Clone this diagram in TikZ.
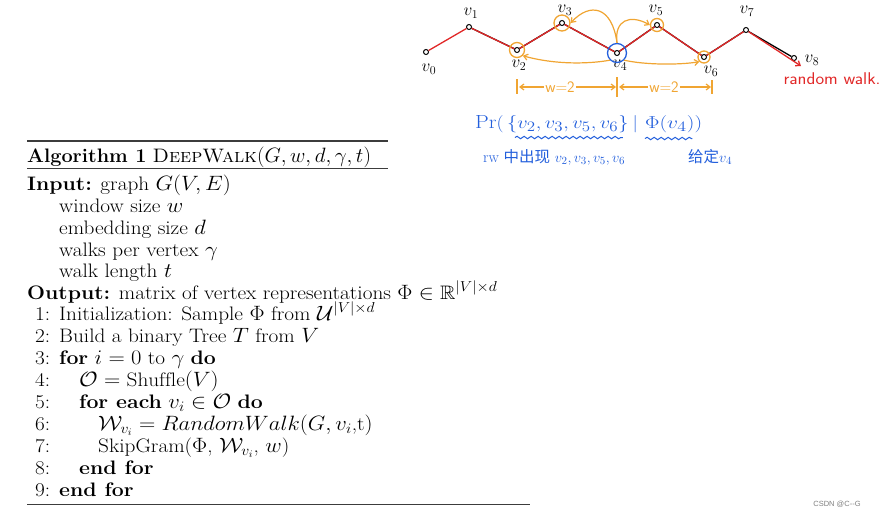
\documentclass[tikz,border=0pt]{standalone}
\usepackage{amsmath,amssymb}
\usepackage{fontspec}
\newfontfamily\cjk{Noto Sans CJK SC}
\newfontfamily\csdnfont{Liberation Sans}
\usetikzlibrary{arrows.meta,decorations.pathmorphing}
\definecolor{handorange}{RGB}{240,165,50}
\definecolor{handblue}{RGB}{35,95,220}
\definecolor{handred}{RGB}{225,40,40}
\definecolor{rulegray}{RGB}{60,60,60}
\newcommand{\algtxt}[1]{\scalebox{1.09}[1]{#1}}
\tikzset{
  algline/.style={anchor=base west, inner sep=0pt, font=\fontsize{19.5}{22}\selectfont},
  vert/.style={circle, draw=black, fill=white, line width=1pt, inner sep=0pt, minimum size=5pt},
  vlabel/.style={inner sep=0pt, font=\sffamily\fontsize{17}{17}\selectfont},
  ocirc/.style={circle, draw=handorange, line width=1.3pt, inner sep=0pt},
  bcirc/.style={circle, draw=handblue, line width=1.3pt, inner sep=0pt},
  oarrow/.style={draw=handorange, line width=1.2pt, -{Straight Barb[length=4pt,width=6pt]}},
  blue text/.style={text=handblue, inner sep=0pt, anchor=base west, font=\fontsize{19}{19}\selectfont},
  wavy/.style={draw=handblue, line width=1pt, decorate, decoration={snake, amplitude=1.2pt, segment length=7pt}},
}
\begin{document}
\begin{tikzpicture}[x=1pt,y=-1pt]
\useasboundingbox (0,0) rectangle (883,517);

% ---------- handwritten random walk ----------
\node[vert] (v0) at (426,52) {};
\node[vert] (v1) at (469,27) {};
\node[vert] (v2) at (517,50) {};
\node[vert] (v3) at (562,23) {};
\node[vert] (v4) at (617,53) {};
\node[vert] (v5) at (657,25) {};
\node[vert] (v6) at (704,57) {};
\node[vert] (v7) at (746,30) {};
\node[vert] (v8) at (794,58) {};
\coordinate (rend) at (801,66);

\draw[black, line width=1.3pt] (v1) -- (v2) -- (v3) -- (v4) -- (v5) -- (v6) -- (v7) -- (v8);
\draw[handred, line width=1.3pt, -{Straight Barb[length=4pt,width=6pt]}]
  (v0) -- ([yshift=-2pt]v1) -- ([yshift=-2pt]v2) -- ([yshift=-2pt]v3) -- ([yshift=-2pt]v4)
  -- ([yshift=-2pt]v5) -- ([yshift=-2pt]v6) -- ([yshift=-2pt]v7) -- (rend);

\node[vlabel] (l0) at (429,69) {$v_0$};
\node[vlabel] (l1) at (471,13) {$v_1$};
\node[vlabel] (l2) at (519,65) {$v_2$};
\node[vlabel] (l3) at (565,10) {$v_3$};
\node[vlabel] (l4) at (620,65) {$v_4$};
\node[vlabel] (l5) at (656,10) {$v_5$};
\node[vlabel] (l6) at (711,71) {$v_6$};
\node[vlabel] (l7) at (747,11) {$v_7$};
\node[vlabel] (l8) at (812,60) {$v_8$};

\node[text=handred, inner sep=0pt, font=\sffamily\fontsize{17}{17}\selectfont] (rw) at (832,79) {\scalebox{1.08}[1]{random walk.}};

% orange / blue circles
\node[ocirc, minimum size=15pt] (c2) at (v2) {};
\node[ocirc, minimum size=16pt] (c3) at (v3) {};
\node[ocirc, minimum size=13pt] (c5) at (v5) {};
\node[ocirc, minimum size=12pt] (c6) at (v6) {};
\node[bcirc, minimum size=19pt] (c4) at (v4) {};

% context arrows
\draw[oarrow] (c4.north) .. controls (612,6) and (590,2) .. (c3.east);
\draw[oarrow] (c4.north) .. controls (614,20) and (630,14) .. (c5.west);
\draw[oarrow] (c4.south west) .. controls (595,63) and (560,66) .. (c2.south east);
\draw[oarrow] (c4.south east) .. controls (645,65) and (680,65) .. (c6.south west);

% window brackets
\coordinate (t1) at (517,87);
\coordinate (t2) at (617,87);
\coordinate (t3) at (712,87);
\draw[handorange, line width=1.2pt] (t1) ++(0,-8) -- ++(0,15);
\draw[handorange, line width=1.2pt] (t2) ++(0,-10) -- ++(0,20);
\draw[handorange, line width=1.2pt] (t3) ++(0,-7) -- ++(0,14);
\node[text=handorange, inner sep=1pt, font=\sffamily\fontsize{16}{16}\selectfont] (wa) at (560,87) {w=2};
\node[text=handorange, inner sep=1pt, font=\sffamily\fontsize{16}{16}\selectfont] (wb) at (664,87) {w=2};
\draw[oarrow] (wa.west) -- ([xshift=2pt]t1);
\draw[oarrow] (wa.east) -- ([xshift=-1pt]t2);
\draw[oarrow] (wb.west) -- ([xshift=2pt]t2);
\draw[oarrow] (wb.east) -- ([xshift=-1pt]t3);

% blue probability
\node[blue text] (pA) at (475,128) {\scalebox{1.15}[1]{$\mathrm{Pr}($}};
\node[blue text] (pB) at ([xshift=3pt]pA.base east) {\scalebox{1.18}[1]{$\{v_2, v_3, v_5, v_6\}$}};
\node[blue text] (pC) at ([xshift=4pt]pB.base east) {$|$};
\node[blue text] (pD) at ([xshift=7pt]pC.base east) {\scalebox{1.25}[1]{$\Phi(v_4))$}};
\draw[wavy] ([xshift=8pt,yshift=-5pt]pB.south west) -- ([xshift=-6pt,yshift=-5pt]pB.south east);
\draw[wavy] ([yshift=-6pt]pD.south west) -- ([xshift=-10pt,yshift=-6pt]pD.south east);

\node[blue text, font=\fontsize{15.5}{15.5}\selectfont] (rwA) at (483,162) {rw \cjk 中出现\normalfont\ $v_2, v_3, v_5, v_6$};
\node[blue text, font=\fontsize{15.5}{15.5}\selectfont] (gd) at (688,162) {\cjk 给定\normalfont$v_4$};

% ---------- algorithm ----------
\coordinate (r1a) at (27,141); \coordinate (r1b) at (388,141);
\coordinate (r2a) at (27,168); \coordinate (r2b) at (388,168);
\coordinate (r3a) at (27,504); \coordinate (r3b) at (530,504);
\draw[rulegray, line width=1.4pt] (r1a) -- (r1b);
\draw[rulegray, line width=0.9pt] (r2a) -- (r2b);
\draw[rulegray, line width=0.9pt] (r3a) -- (r3b);

\node[algline] (title) at (27,162) {\scalebox{1.02}[1]{\textbf{Algorithm 1} \textsc{DeepWalk}$(G, w, d, \gamma, t)$}};
\node[algline] (in0) at (27,190) {\algtxt{\textbf{Input:} graph $G(V,E)$}};
\node[algline] (in1) at (59,212) {\algtxt{window size $w$}};
\node[algline] (in2) at (59,234) {\algtxt{embedding size $d$}};
\node[algline] (in3) at (59,256) {\algtxt{walks per vertex $\gamma$}};
\node[algline] (in4) at (59,277) {\algtxt{walk length $t$}};
\node[algline] (out) at (27,299) {\algtxt{\textbf{Output:} matrix of vertex representations $\Phi \in \mathbb{R}^{|V| \times d}$}};

\foreach \n/\y in {1/320,2/342,3/364,4/386,5/408,6/430,7/452,8/474,9/496}
  \node[algline] (n\n) at (35,\y) {\algtxt{\n:}};

\node[algline] (s1) at (59,320) {\algtxt{Initialization: Sample $\Phi$ from $\mathcal{U}^{\smash{|V| \times d}}$}};
\node[algline] (s2) at (59,342) {\algtxt{Build a binary Tree $T$ from $V$}};
\node[algline] (s3) at (59,364) {\algtxt{\textbf{for} $i = 0$ to $\gamma$ \textbf{do}}};
\node[algline] (s4) at (79,386) {\algtxt{$\mathcal{O} = \mathrm{Shuffle}(V)$}};
\node[algline] (s5) at (79,408) {\algtxt{\textbf{for each} $v_i \in \mathcal{O}$ \textbf{do}}};
\node[algline] (s6) at (98,430) {\algtxt{$\mathcal{W}_{\smash{v_i}} = RandomWalk(G, v_i$,t$)$}};
\node[algline] (s7) at (98,452) {\algtxt{SkipGram($\Phi$, $\mathcal{W}_{v_i}$, $w$)}};
\node[algline] (s8) at (79,474) {\algtxt{\textbf{end for}}};
\node[algline] (s9) at (59,496) {\algtxt{\textbf{end for}}};

\node[text=gray, inner sep=0pt, font=\csdnfont\fontsize{7.5}{7.5}\selectfont] (csdn) at (837,504) {CSDN @C{-}{-}G};
\end{tikzpicture}
\end{document}
